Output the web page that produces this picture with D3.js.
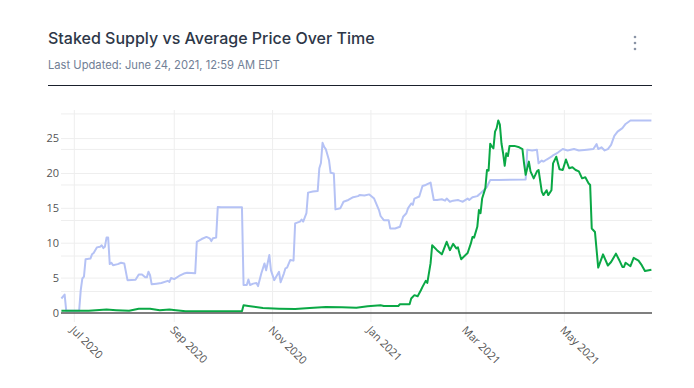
<!DOCTYPE html>
<html>
<head>
<meta charset="utf-8">
<script src="https://cdn.jsdelivr.net/npm/d3@7"></script>
<style>
  body { margin: 0; background: #fff; }
  svg { display: block; }
</style>
</head>
<body>
<div id="chart"></div>
<script>
// staked supply (light blue line)
const supplyDates = ["2020-06-23","2020-06-25","2020-06-26","2020-07-04","2020-07-05","2020-07-06","2020-07-07","2020-07-08","2020-07-11","2020-07-12","2020-07-13","2020-07-15","2020-07-17","2020-07-18","2020-07-19","2020-07-20","2020-07-21","2020-07-22","2020-07-23","2020-07-24","2020-07-25","2020-07-28","2020-07-30","2020-08-01","2020-08-03","2020-08-08","2020-08-10","2020-08-12","2020-08-14","2020-08-15","2020-08-16","2020-08-17","2020-08-18","2020-08-21","2020-08-24","2020-08-28","2020-08-29","2020-08-30","2020-09-01","2020-09-04","2020-09-07","2020-09-09","2020-09-14","2020-09-15","2020-09-18","2020-09-21","2020-09-23","2020-09-24","2020-09-25","2020-09-27","2020-09-28","2020-09-30","2020-10-13","2020-10-14","2020-10-16","2020-10-17","2020-10-18","2020-10-20","2020-10-22","2020-10-23","2020-10-25","2020-10-27","2020-10-28","2020-10-30","2020-10-31","2020-11-02","2020-11-05","2020-11-06","2020-11-08","2020-11-09","2020-11-10","2020-11-12","2020-11-14","2020-11-15","2020-11-18","2020-11-19","2020-11-20","2020-11-21","2020-11-22","2020-11-23","2020-11-26","2020-11-29","2020-11-30","2020-12-01","2020-12-02","2020-12-03","2020-12-04","2020-12-06","2020-12-07","2020-12-09","2020-12-10","2020-12-13","2020-12-15","2020-12-18","2020-12-21","2020-12-24","2020-12-25","2020-12-28","2020-12-31","2021-01-03","2021-01-06","2021-01-07","2021-01-09","2021-01-12","2021-01-13","2021-01-16","2021-01-19","2021-01-21","2021-01-23","2021-01-24","2021-01-26","2021-01-27","2021-01-28","2021-01-31","2021-02-02","2021-02-04","2021-02-07","2021-02-09","2021-02-11","2021-02-14","2021-02-16","2021-02-17","2021-02-19","2021-02-21","2021-02-24","2021-02-25","2021-02-27","2021-03-02","2021-03-03","2021-03-05","2021-03-08","2021-03-10","2021-03-12","2021-03-14","2021-03-16","2021-03-21","2021-04-07","2021-04-08","2021-04-11","2021-04-14","2021-04-15","2021-04-17","2021-04-18","2021-04-20","2021-04-23","2021-04-24","2021-04-27","2021-04-30","2021-05-03","2021-05-07","2021-05-10","2021-05-15","2021-05-19","2021-05-21","2021-05-22","2021-05-24","2021-05-26","2021-05-28","2021-05-30","2021-06-01","2021-06-03","2021-06-06","2021-06-08","2021-06-11","2021-06-24"];
const supplyValues = [2.07,2.64,0.3,0.3,3.26,4.94,5.2,7.7,7.8,8.4,8.6,9.4,9.5,9.7,9.3,9.5,10.8,10.8,7.0,7.2,6.85,7.0,7.2,7.1,4.7,4.75,5.5,5.5,5.1,5.1,5.9,5.4,4.1,4.2,4.3,4.6,4.45,5.0,4.85,5.3,5.65,5.75,5.7,10.2,10.6,10.9,10.7,10.3,10.7,10.8,15.2,15.15,15.15,4.0,4.0,4.8,4.0,4.2,4.3,3.85,5.65,7.1,6.1,8.3,6.1,4.7,5.9,4.4,5.65,6.4,6.5,7.6,7.5,12.85,13.1,13.4,13.1,13.7,14.3,17.25,17.4,17.5,20.75,21.5,24.4,23.8,23.5,21.9,20.1,20.0,14.85,15.0,15.95,16.2,16.6,16.75,16.9,16.85,17.0,16.4,14.75,13.9,13.3,13.3,12.1,12.1,12.35,13.8,14.3,15.0,15.7,15.5,16.4,16.7,18.2,18.35,18.7,16.2,16.2,16.3,16.1,16.4,15.95,16.1,16.2,16.1,15.95,16.4,16.2,16.6,16.75,17.15,17.6,18.1,19.05,19.05,19.15,23.4,23.3,23.4,21.45,21.85,21.7,22.0,22.4,22.6,23.0,23.5,23.3,23.5,23.3,23.4,23.5,24.2,23.5,23.75,23.3,23.5,24.1,25.4,26.0,26.5,27.1,27.6,27.6];

// average price (green line)
const priceDates = ["2020-06-23","2020-07-10","2020-07-21","2020-07-27","2020-08-04","2020-08-10","2020-08-17","2020-08-23","2020-08-29","2020-09-02","2020-09-08","2020-10-13","2020-10-14","2020-10-17","2020-10-26","2020-11-05","2020-11-15","2020-11-24","2020-12-04","2020-12-14","2020-12-23","2020-12-30","2021-01-07","2021-01-09","2021-01-18","2021-01-19","2021-01-25","2021-01-26","2021-01-28","2021-01-30","2021-02-01","2021-02-02","2021-02-04","2021-02-05","2021-02-07","2021-02-08","2021-02-11","2021-02-14","2021-02-17","2021-02-19","2021-02-21","2021-02-23","2021-02-24","2021-02-25","2021-02-26","2021-03-02","2021-03-04","2021-03-05","2021-03-06","2021-03-08","2021-03-09","2021-03-10","2021-03-11","2021-03-13","2021-03-14","2021-03-15","2021-03-16","2021-03-17","2021-03-18","2021-03-19","2021-03-20","2021-03-21","2021-03-22","2021-03-23","2021-03-24","2021-03-25","2021-03-26","2021-03-27","2021-03-28","2021-03-31","2021-04-03","2021-04-05","2021-04-06","2021-04-07","2021-04-09","2021-04-10","2021-04-12","2021-04-14","2021-04-15","2021-04-17","2021-04-18","2021-04-20","2021-04-21","2021-04-23","2021-04-24","2021-04-26","2021-04-28","2021-04-30","2021-05-02","2021-05-04","2021-05-06","2021-05-08","2021-05-10","2021-05-12","2021-05-14","2021-05-16","2021-05-17","2021-05-18","2021-05-20","2021-05-22","2021-05-25","2021-05-28","2021-05-30","2021-06-02","2021-06-04","2021-06-06","2021-06-07","2021-06-08","2021-06-11","2021-06-13","2021-06-16","2021-06-18","2021-06-20","2021-06-24"];
const priceValues = [0.3,0.3,0.5,0.4,0.3,0.6,0.6,0.4,0.5,0.4,0.25,0.25,1.1,1.0,0.7,0.6,0.55,0.7,0.86,0.8,0.75,0.96,1.1,1.0,1.0,1.25,1.25,2.07,2.55,2.4,3.26,3.74,4.6,4.3,7.1,9.7,9.0,8.4,10.2,9.0,9.9,9.25,9.4,8.5,7.7,8.6,9.97,10.9,10.8,12.35,14.75,14.3,16.4,17.9,20.5,20.4,24.25,23.85,23.6,26.0,26.5,27.6,27.0,24.3,22.9,21.1,22.9,22.5,23.95,23.95,23.75,23.5,21.45,19.8,21.7,20.3,19.3,20.3,20.5,17.4,16.9,17.6,16.9,17.6,21.45,22.4,20.6,20.5,22.0,20.75,20.9,20.5,20.3,19.3,19.45,18.6,18.35,12.1,11.6,6.5,8.4,6.8,7.3,8.5,7.6,6.6,6.6,7.2,6.7,7.9,7.5,6.85,6.0,6.2];

const yTicks = [0, 5, 10, 15, 20, 25];
const supplyGridTicks = [1, 2, 3, 4, 5, 6];
const xTicks = ["2020-07-01","2020-09-01","2020-11-01","2021-01-01","2021-03-01","2021-05-01"];

const width = 694, height = 388;
const margin = {left: 61, right: 42, top: 110, bottom: 66};
const parse = d3.timeParse("%Y-%m-%d");

const supply = supplyDates.map((d, i) => ({date: parse(d), value: supplyValues[i]}));
const price = priceDates.map((d, i) => ({date: parse(d), value: priceValues[i]}));

const svg = d3.select("#chart").append("svg")
  .attr("width", width)
  .attr("height", height);

// header
svg.append("text")
  .attr("x", 48).attr("y", 44)
  .style("font-family", "Inter, 'Noto Sans', sans-serif")
  .style("font-size", "16px")
  .style("font-weight", 500)
  .style("fill", "#2d3748")
  .text("Staked Supply vs Average Price Over Time");

svg.append("text")
  .attr("x", 48).attr("y", 68.5)
  .style("font-family", "Inter, 'Noto Sans', sans-serif")
  .style("font-size", "11.2px")
  .style("fill", "#718096")
  .text("Last Updated: June 24, 2021, 12:59 AM EDT");

svg.selectAll(".menu-dot")
  .data([37, 43, 49])
  .enter().append("circle")
  .attr("cx", 635).attr("cy", d => d)
  .attr("r", 1.3)
  .attr("fill", "#8a94a6");

svg.append("line")
  .attr("x1", 48).attr("x2", 652)
  .attr("y1", 85.5).attr("y2", 85.5)
  .attr("stroke", "#1a202c")
  .attr("stroke-width", 1);

// scales
const x = d3.scaleTime()
  .domain(d3.extent(supply, d => d.date))
  .range([61.4, 651.4]);

const y = d3.scaleLinear()
  .domain([-1.3, 29.1])
  .range([height - margin.bottom, margin.top]);

const y2 = d3.scaleLinear()
  .domain([0.143, 6.11])
  .range([height - margin.bottom, margin.top]);

const plotLeft = 61, plotRight = 652;

// grid
svg.append("g")
  .selectAll("line")
  .data(supplyGridTicks)
  .enter().append("line")
  .attr("x1", plotLeft).attr("x2", plotRight)
  .attr("y1", d => y2(d)).attr("y2", d => y2(d))
  .attr("stroke", "#eeeeee").attr("stroke-width", 1);

svg.append("g")
  .selectAll("line")
  .data(yTicks.filter(d => d !== 0))
  .enter().append("line")
  .attr("x1", plotLeft).attr("x2", plotRight)
  .attr("y1", d => y(d)).attr("y2", d => y(d))
  .attr("stroke", "#eeeeee").attr("stroke-width", 1);

svg.append("g")
  .selectAll("line")
  .data(xTicks.map(parse))
  .enter().append("line")
  .attr("x1", d => x(d)).attr("x2", d => x(d))
  .attr("y1", margin.top).attr("y2", height - margin.bottom)
  .attr("stroke", "#eeeeee").attr("stroke-width", 1);

// lines
const line = d3.line()
  .x(d => x(d.date))
  .y(d => y(d.value));

svg.append("path")
  .datum(supply)
  .attr("fill", "none")
  .attr("stroke", "#b5c2f5")
  .attr("stroke-width", 2)
  .attr("stroke-linejoin", "round")
  .attr("d", line);

svg.append("path")
  .datum(price)
  .attr("fill", "none")
  .attr("stroke", "#0aa845")
  .attr("stroke-width", 2)
  .attr("stroke-linejoin", "round")
  .attr("d", line);

// zero line
svg.append("line")
  .attr("x1", plotLeft).attr("x2", plotRight)
  .attr("y1", y(0)).attr("y2", y(0))
  .attr("stroke", "#555")
  .attr("stroke-width", 1.5);

// y tick labels
svg.append("g")
  .selectAll("text")
  .data(yTicks)
  .enter().append("text")
  .attr("x", 59)
  .attr("y", d => y(d))
  .attr("dy", "0.35em")
  .attr("text-anchor", "end")
  .style("font-family", "'Open Sans', sans-serif")
  .style("font-size", "11px")
  .style("fill", "#555")
  .text(d => d);

// x tick labels, rotated
const fmt = d3.timeFormat("%b %Y");
svg.append("g")
  .selectAll("text")
  .data(xTicks.map(parse))
  .enter().append("text")
  .attr("transform", d => `translate(${x(d) - 2},${height - margin.bottom + 6}) rotate(45)`)
  .attr("dy", "0.35em")
  .attr("text-anchor", "start")
  .style("font-family", "'Open Sans', sans-serif")
  .style("font-size", "11px")
  .style("fill", "#555")
  .text(d => fmt(d));
</script>
</body>
</html>
